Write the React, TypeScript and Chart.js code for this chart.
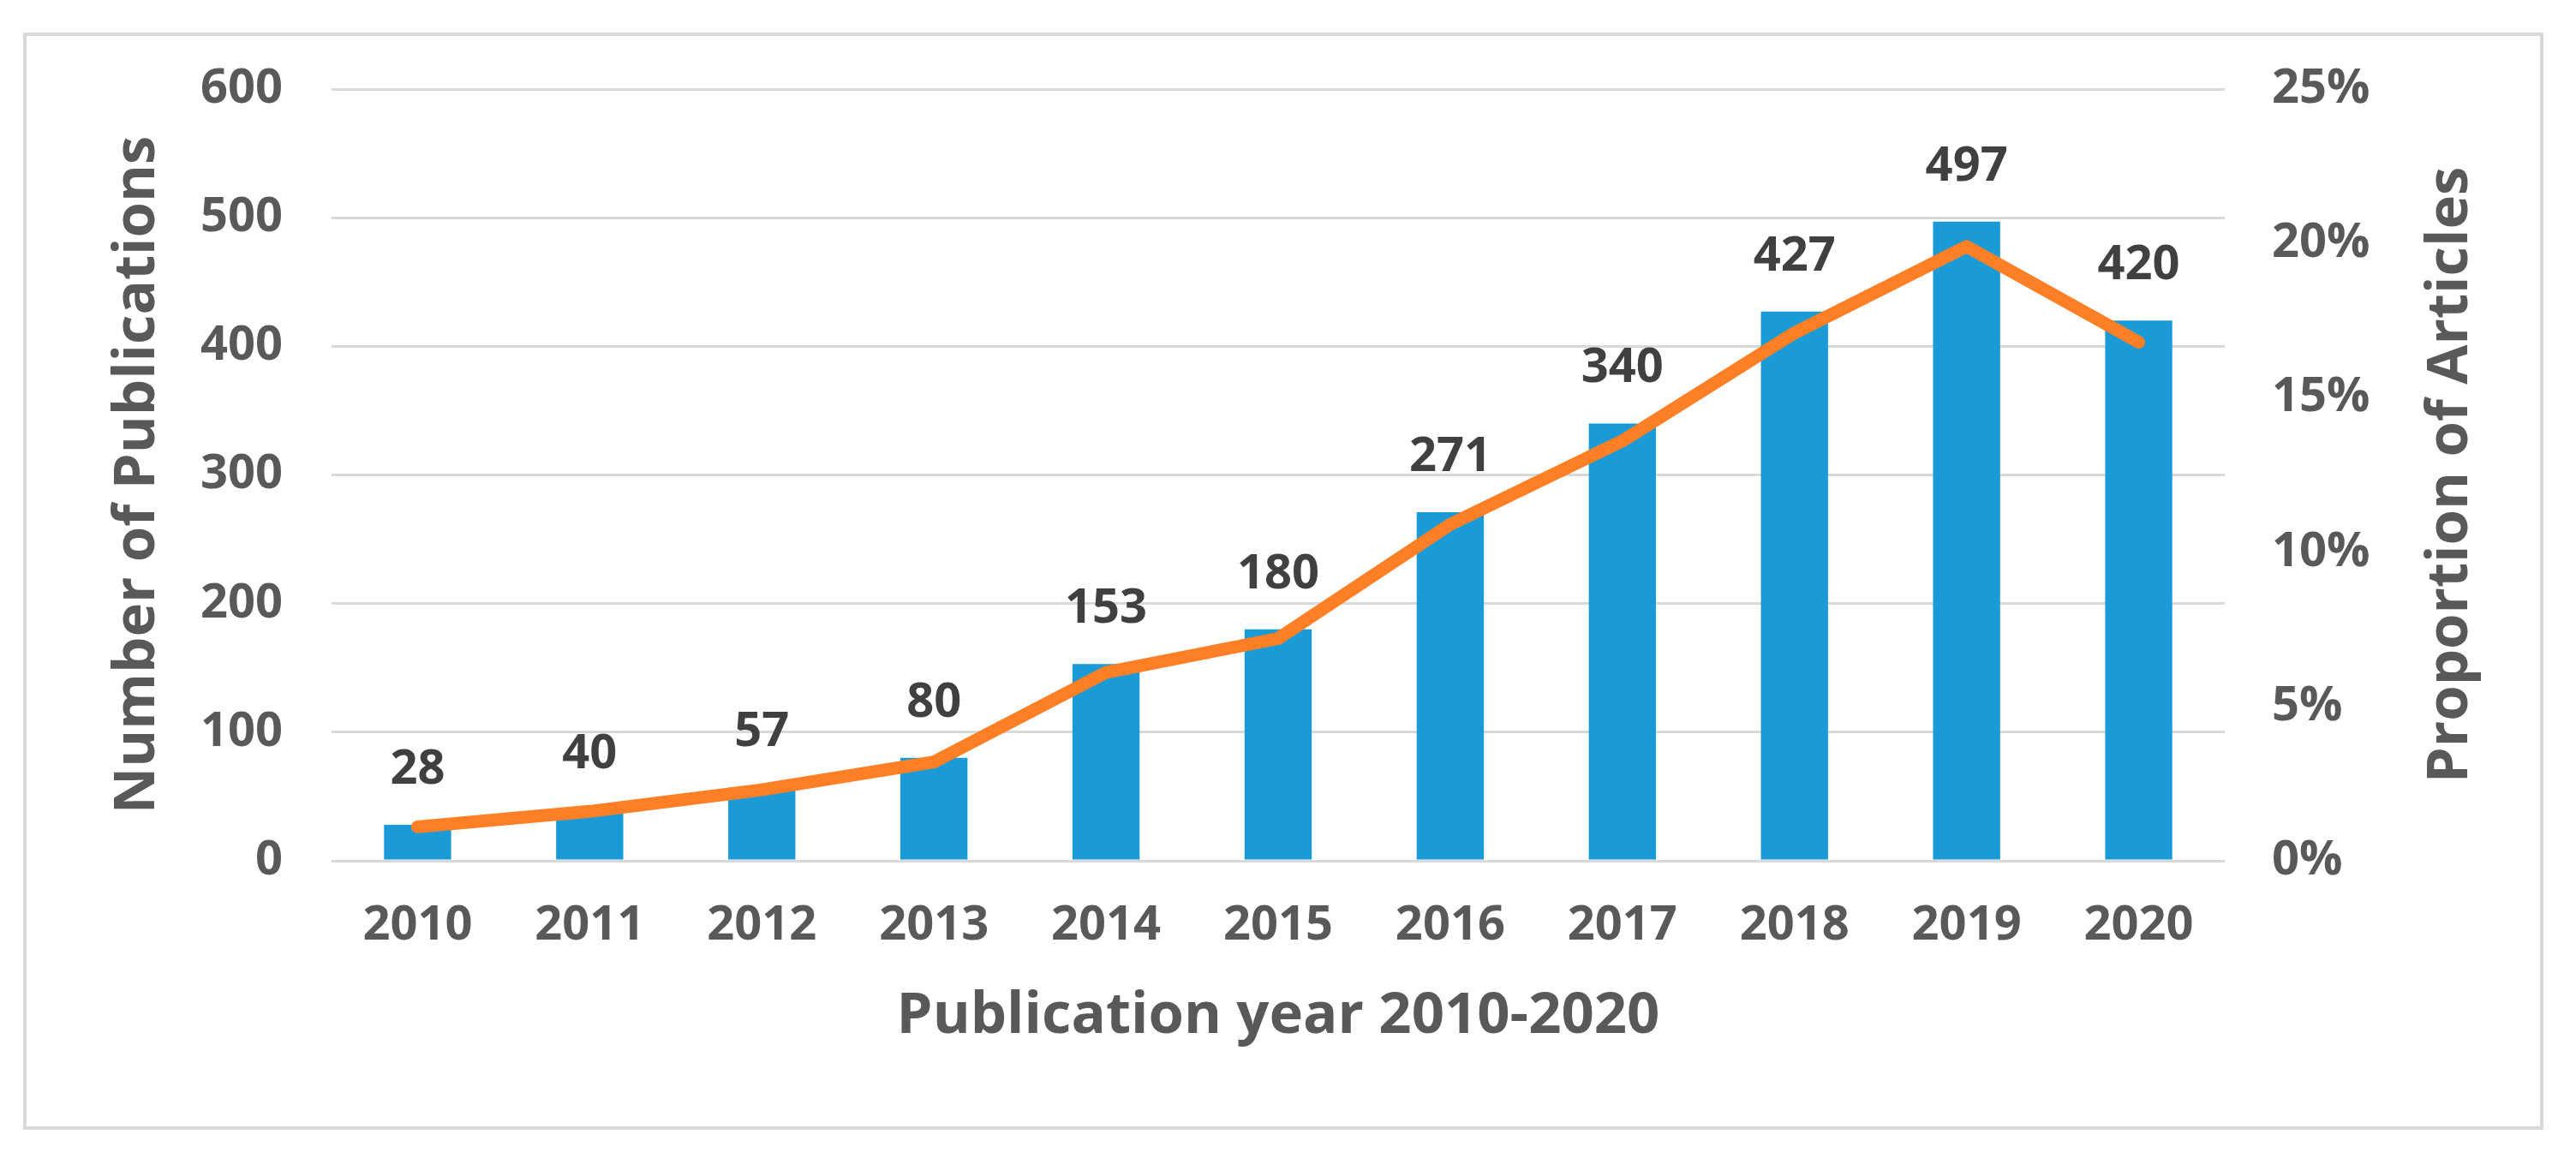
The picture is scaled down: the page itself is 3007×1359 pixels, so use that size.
import React, { useEffect, useRef } from "react";
import { Chart, registerables } from "chart.js";

Chart.register(...registerables);

// ---- data ----
const years = ["2010", "2011", "2012", "2013", "2014", "2015", "2016", "2017", "2018", "2019", "2020"];
const publications = [28, 40, 57, 80, 153, 180, 271, 340, 427, 497, 420];
const proportionPct = [1.1, 1.6, 2.3, 3.2, 6.1, 7.2, 10.9, 13.6, 17.1, 19.9, 16.8];
const leftAxisMax = 600;
const leftAxisStep = 100;
const rightAxisMax = 25;
const rightAxisStep = 5;
const xTitle = "Publication year 2010-2020";
const yLeftTitle = "Number of Publications";
const yRightTitle = "Proportion of Articles";

const FONT = "'Open Sans', 'Noto Sans', sans-serif";
const TICK_COLOR = "#595959";
const LABEL_COLOR = "#404040";
const GRID_COLOR = "#d9d9d9";
const BAR_COLOR = "#1a9bd7";
const LINE_COLOR = "#fe7f26";

const W = 3007;
const H = 1359;

const overlayPlugin = {
  id: "overlayText",
  afterDatasetsDraw(chart: any) {
    const ctx = chart.ctx;
    const meta = chart.getDatasetMeta(0);
    ctx.save();
    ctx.font = `bold 56px ${FONT}`;
    ctx.fillStyle = LABEL_COLOR;
    ctx.textAlign = "center";
    ctx.textBaseline = "alphabetic";
    meta.data.forEach((el: any, i: number) => {
      ctx.fillText(String(publications[i]), el.x, el.y - 48);
    });
    const area = chart.chartArea;
    ctx.font = `bold 67px ${FONT}`;
    ctx.fillStyle = TICK_COLOR;
    ctx.translate(area.right + 283, (area.top + area.bottom) / 2);
    ctx.rotate(-Math.PI / 2);
    ctx.fillText(yRightTitle, 0, 0);
    ctx.restore();
  },
};

export default function App() {
  const canvasRef = useRef<HTMLCanvasElement | null>(null);

  useEffect(() => {
    if (!canvasRef.current) return;
    const tickFont = { family: FONT, size: 56, weight: "bold" as const };
    const titleFont = { family: FONT, size: 67, weight: "bold" as const };
    const chart = new Chart(canvasRef.current, {
      type: "bar",
      data: {
        labels: years,
        datasets: [
          {
            type: "bar",
            label: "Number of Publications",
            data: publications,
            backgroundColor: BAR_COLOR,
            barPercentage: 0.39,
            categoryPercentage: 1,
            yAxisID: "y",
            order: 1,
          },
          {
            type: "line",
            label: "Proportion of Articles",
            data: proportionPct,
            borderColor: LINE_COLOR,
            backgroundColor: LINE_COLOR,
            borderWidth: 15,
            pointRadius: 0,
            borderCapStyle: "round",
            borderJoinStyle: "round",
            tension: 0,
            yAxisID: "y1",
            order: 0,
          } as any,
        ],
      },
      options: {
        responsive: false,
        animation: false,
        layout: { padding: { left: 121, right: 100, top: 104, bottom: 132 } },
        plugins: { legend: { display: false }, tooltip: { enabled: false } },
        scales: {
          x: {
            grid: { display: false, drawTicks: false },
            border: { display: false },
            ticks: { padding: 42, color: TICK_COLOR, font: tickFont },
            title: { display: true, text: xTitle, color: TICK_COLOR, font: titleFont, padding: 0 },
            afterFit: (s: any) => {
              s.height = 222;
            },
          },
          y: {
            position: "left",
            min: 0,
            max: leftAxisMax,
            ticks: { stepSize: leftAxisStep, padding: 57, color: TICK_COLOR, font: tickFont },
            grid: { color: GRID_COLOR, lineWidth: 3, drawTicks: false },
            border: { display: false },
            title: { display: true, text: yLeftTitle, color: TICK_COLOR, font: titleFont, padding: 0 },
            afterFit: (s: any) => {
              s.width = 266;
            },
          },
          y1: {
            position: "right",
            min: 0,
            max: rightAxisMax,
            ticks: {
              stepSize: rightAxisStep,
              padding: 55,
              color: TICK_COLOR,
              font: tickFont,
              callback: (v: any) => `${v}%`,
            },
            grid: { display: false, drawTicks: false },
            border: { display: false },
            afterFit: (s: any) => {
              s.width = 310;
            },
          },
        },
      },
      plugins: [overlayPlugin],
    });
    return () => chart.destroy();
  }, []);

  return (
    <div style={{ position: "fixed", left: 0, top: 0, width: W, height: H, background: "#ffffff" }}>
      <div
        style={{
          position: "absolute",
          left: 27,
          top: 38,
          width: 2942 - 8,
          height: 1281 - 8,
          border: "4px solid #d9d9d9",
        }}
      />
      <canvas ref={canvasRef} width={W} height={H} style={{ position: "absolute", left: 0, top: 0, display: "block" }} />
    </div>
  );
}
